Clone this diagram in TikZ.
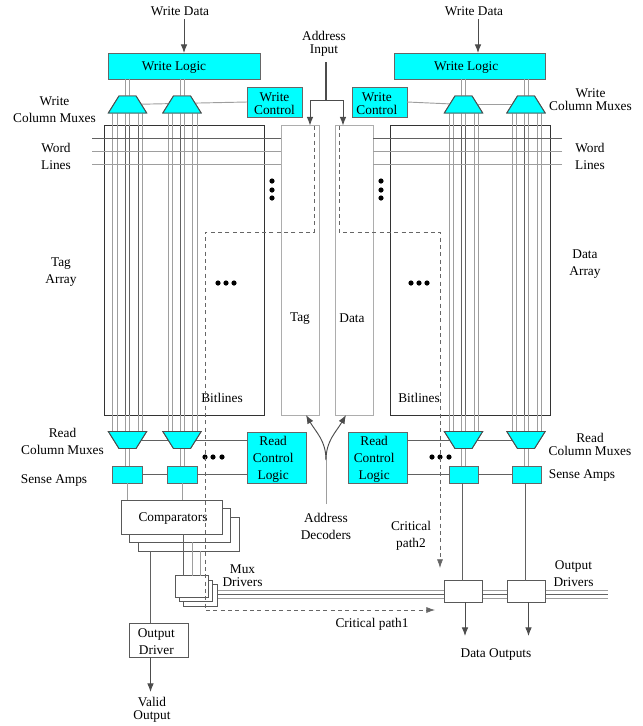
\documentclass[tikz,border=0pt]{standalone}
\usepackage{fontspec}
\setmainfont{Liberation Serif}
\usetikzlibrary{calc,arrows.meta,shapes.geometric}
\definecolor{cellcyan}{RGB}{0,255,255}

\begin{document}
\begin{tikzpicture}[
    x=0.75pt, y=-0.75pt,
    lbl/.style={align=center, inner sep=0pt, yshift=-1pt, font=\fontsize{10}{12.75}\selectfont},
    tight lbl/.style={lbl, font=\fontsize{10}{9.75}\selectfont},
    size px/.style 2 args={minimum width=#1*0.75pt, minimum height=#2*0.75pt, outer sep=0pt, inner sep=0pt},
    cyan box/.style={draw=black!60, fill=cellcyan, line width=0.75pt},
    white box/.style={draw=black!65, fill=white, line width=0.75pt},
    mux up/.style={trapezium, trapezium left angle=58, trapezium right angle=58, minimum width=28.5pt, minimum height=12.75pt, inner sep=1pt, outer sep=0pt, draw=black!70, fill=cellcyan, line width=0.7pt},
    mux down/.style={mux up, shape border rotate=180},
    array box/.style={size px={#1}{289.5}, draw=black!80, line width=0.7pt},
    dec box/.style={size px={38}{289.5}, draw=black!32, line width=0.7pt},
    gray line/.style={draw=black!38, line width=0.7pt},
    dark line/.style={draw=black!62, line width=0.6pt},
    sig arrow/.style={draw=black!70, line width=0.7pt, -{Latex[length=6.5pt,width=5pt]}},
    crit path/.style={draw=black!60, line width=0.5pt, dash pattern=on 3pt off 2.5pt, -{Latex[length=6.5pt,width=4.5pt]}},
    dot/.style={circle, fill=black, inner sep=0pt, minimum size=3.9pt}
]
\path[use as bounding box] (0,0) rectangle (643,726);

% arrays and decoders
\node[array box=159.5] (TagArr) at (184.25,270.25) {};
\node[array box=160] (DataArr) at (470,270.25) {};
\node[dec box] (TagDec) at (300,270.25) {};
\node[dec box] (DataDec) at (354,270.25) {};

% logic blocks on top
\node[cyan box, size px={152}{26}] (WL1) at (184,66) {};
\node[cyan box, size px={151}{26}] (WL2) at (469.5,66) {};
\node[cyan box, size px={55}{30}] (WC1) at (274.5,102) {};
\node[cyan box, size px={55}{30}] (WC2) at (379.5,102) {};

% column muxes
\foreach \name/\cx in {1/127.5, 2/182, 3/463.5, 4/526} {
  \node[mux up] (WM\name) at (\cx,104.5) {};
  \node[mux down] (RM\name) at (\cx,440) {};
}

% sense amps and read control
\node[cyan box, size px={30}{17}] (SA1) at (127.5,474.5) {};
\node[cyan box, size px={30}{17}] (SA2) at (182.25,474.5) {};
\node[cyan box, size px={29}{17}] (SA3) at (463.5,474.5) {};
\node[cyan box, size px={29}{17}] (SA4) at (526.5,474.5) {};
\node[cyan box, size px={59}{51}] (RC1) at (276.5,457.5) {};
\node[cyan box, size px={59}{51}] (RC2) at (377.5,457.5) {};

% bitlines
\foreach \bx in {112.7,117,125,129,138,142.3} \draw[gray line] (\bx,0 |- WM1.south) -- (\bx,0 |- RM1.north);
\foreach \bx in {168,172,180,184,192.7,197} \draw[gray line] (\bx,0 |- WM2.south) -- (\bx,0 |- RM2.north);
\foreach \bx in {449,453,461,465,474,478} \draw[gray line] (\bx,0 |- WM3.south) -- (\bx,0 |- RM3.north);
\foreach \bx in {512,516,524,528,537,541} \draw[gray line] (\bx,0 |- WM4.south) -- (\bx,0 |- RM4.north);
\foreach \bx in {125,129,138} \draw[dark line] (\bx,0 |- TagArr.north) -- (\bx,0 |- TagArr.south);
\foreach \bx in {180,461,465,524} \draw[dark line] (\bx,0 |- TagArr.north) -- (\bx,0 |- TagArr.south);

% word lines
\coordinate (WLa) at (92,138);
\coordinate (WLb) at (92,151);
\coordinate (WLc) at (92,164);
\coordinate (WRa) at (562,138);
\coordinate (WRb) at (562,151);
\coordinate (WRc) at (562,164);
\draw[dark line] (WLa) -- (WLa -| TagDec.west);
\draw[gray line] (WLb) -- (WLb -| TagDec.west);
\draw[gray line] (WLc) -- (WLc -| TagDec.west);
\draw[dark line] (WRa) -- (WRa -| DataDec.east);
\draw[gray line] (WRb) -- (WRb -| DataDec.east);
\draw[gray line] (WRc) -- (WRc -| DataDec.east);

% logic to muxes and amps
\foreach \name/\ax/\bx in {1/125/129, 2/180/184, 3/461/465, 4/524/528} {
  \draw[gray line] (\ax,0 |- WL1.south) -- (\ax,0 |- WM\name.north);
  \draw[gray line] (\bx,0 |- WL1.south) -- (\bx,0 |- WM\name.north);
  \draw[gray line] (\ax,0 |- RM\name.south) -- (\ax,0 |- SA\name.north);
  \draw[gray line] (\bx,0 |- RM\name.south) -- (\bx,0 |- SA\name.north);
}
\draw[gray line] (WM1.center) -- (WC1.west);
\draw[gray line] (WM3.center) -- (WC2.east);
\draw[gray line] (WM3.center) -- (WM4.center);
\draw[dark line] (RM1.center) -- (RC1.west |- RM1.center);
\draw[dark line] (RM3.center) -- (RC2.east |- RM3.center);
\draw[dark line] (RM3.center) -- (RM4.center);
\draw[dark line] (SA1.east) -- (SA2.west);
\draw[dark line] (SA2.east) -- (SA2.east -| RC1.west);
\draw[dark line] (SA3.west) -- (SA3.west -| RC2.east);
\draw[dark line] (SA3.east) -- (SA4.west);
% the muxes sit on top of their own joining lines
\foreach \name/\cx in {1/127.5, 2/182, 3/463.5, 4/526} {
  \node[mux up] at (\cx,104.5) {};
  \node[mux down] at (\cx,440) {};
}

% comparators
\node[white box, size px={101}{34}] (CMP3) at (188.5,534) {};
\node[white box, size px={101}{34}] (CMP2) at (180,525) {};
\node[white box, size px={101}{34}] (CMP1) at (171.5,517) {};
\draw[gray line] (127,0 |- SA1.south) -- (127,0 |- CMP1.north);
\draw[gray line] (182,0 |- SA2.south) -- (182,0 |- CMP1.north);

% mux drivers
\coordinate (BusA) at (608,590);
\coordinate (BusB) at (608,594);
\coordinate (BusC) at (608,598);
\draw[gray line] (212,590) -- (BusA);
\draw[dark line] (212,594) -- (BusB);
\draw[gray line] (212,598) -- (BusC);
\node[white box, size px={33.5}{22}] (MD3) at (200.25,595) {};
\node[white box, size px={33}{21}] (MD2) at (196,590.5) {};
\node[white box, size px={33.5}{21.5}] (MD1) at (191.75,586.5) {};
\draw[dark line] (183.5,0 |- CMP1.south) -- (183.5,0 |- MD1.north);
\draw[gray line] (192,0 |- CMP2.south) -- (192,0 |- MD1.north);
\draw[gray line] (200,0 |- CMP3.south) -- (200,0 |- MD1.north);

% output side
\node[white box, size px={59}{34}] (OD) at (159,640) {};
\draw[dark line] (150.5,0 |- CMP3.south) -- (150.5,0 |- OD.north);
\node[white box, size px={38.5}{21.5}] (DO1) at (463.25,591.5) {};
\node[white box, size px={38}{21.5}] (DO2) at (526.5,591.5) {};
\draw[dark line] (462.7,0 |- SA3.south) -- (462.7,0 |- DO1.north);
\draw[dark line] (525,0 |- SA4.south) -- (525,0 |- DO2.north);
\coordinate (ValidEnd) at (150.5,692);
\coordinate (DataEndA) at (465,636);
\coordinate (DataEndB) at (528.5,636);
\draw[sig arrow] (150.5,0 |- OD.south) -- (ValidEnd);
\draw[sig arrow] (465,0 |- DO1.south) -- (DataEndA);
\draw[sig arrow] (528.5,0 |- DO2.south) -- (DataEndB);

% labels
\node[lbl] (LWD1) at (180,10) {Write Data};
\node[lbl] (LWD2) at (474,10) {Write Data};
\node[tight lbl] (LAddrIn) at (324,42.5) {Address\\Input};
\node[lbl] at (WL1.center) [xshift=-7.5pt] {Write Logic};
\node[lbl] at (WL2.center) [xshift=-2.5pt] {Write Logic};
\node[lbl, font=\fontsize{10}{9.5}\selectfont] at (WC1.center) {Write\\Control};
\node[lbl, font=\fontsize{10}{9.5}\selectfont] at (WC2.center) [xshift=-2pt] {Write\\Control};
\node[lbl] (LWM1) at (54.5,108.5) {Write\\Column Muxes};
\node[tight lbl] (LWM2) at (590.5,98) {Write\\Column Muxes};
\node[lbl] (LWord1) at (56,155.5) {Word\\Lines};
\node[lbl] (LWord2) at (590,155.5) {Word\\Lines};
\node[lbl] (LTag) at (61,270.5) {Tag\\Array};
\node[lbl] (LData) at (585,262.5) {Data\\Array};
\node[lbl] (LTagDec) at (300,317) {Tag};
\node[lbl] (LDataDec) at (352,317) {Data};
\node[lbl] (LBit1) at (222,397) {Bitlines};
\node[lbl] (LBit2) at (419,397) {Bitlines};
\node[lbl] (LRM1) at (62.5,440.5) {Read\\Column Muxes};
\node[tight lbl] (LRM2) at (590,443) {Read\\Column Muxes};
\node[lbl] (LSA1) at (54,479) {Sense Amps};
\node[lbl] (LSA2) at (582,474) {Sense Amps};
\node[lbl] at (RC1.center) [xshift=-2.5pt] {Read\\Control\\Logic};
\node[lbl] at (RC2.center) [xshift=-2.5pt] {Read\\Control\\Logic};
\node[lbl] at (173,517) {Comparators};
\node[tight lbl] (LMD) at (242.5,574.5) {Mux\\Drivers};
\node[lbl] at (OD.center) [xshift=-2pt] {Output\\Driver};
\node[tight lbl] (LValid) at (152,708.5) {Valid\\Output};
\node[lbl] (LDec) at (326,525.5) {Address\\Decoders};
\node[lbl] (LCP2) at (411,534.5) {Critical\\path2};
\node[lbl] (LOD) at (573.5,572.5) {Output\\Drivers};
\node[lbl] (LCP1) at (372,623) {Critical path1};
\node[lbl] (LDO) at (496,653) {Data Outputs};

% input arrows
\coordinate (DataInA) at (184,19);
\coordinate (DataInB) at (478,19);
\draw[sig arrow] (DataInA) -- (DataInA |- WL1.north);
\draw[sig arrow] (DataInB) -- (DataInB |- WL2.north);

% address lines
\coordinate (AddrTop) at (326,62);
\coordinate (AddrFork) at (326,100);
\coordinate (DecTop) at (326,504);
\coordinate (DecFork) at (326,460);
\draw[black!70, line width=1.3pt] (AddrTop) -- (AddrFork);
\draw[sig arrow] (AddrFork) -| (310,0 |- TagDec.north);
\draw[sig arrow] (AddrFork) -| (343,0 |- DataDec.north);
\draw[gray line] (DecTop) -- (DecFork);
\draw[sig arrow] (DecFork) to[out=90, in=-60] (306,0 |- TagDec.south);
\draw[sig arrow] (DecFork) to[out=90, in=-120] (346,0 |- DataDec.south);

% dots
\foreach \py in {181,190,198} {
  \node[dot] at (272,\py) {};
  \node[dot] at (381,\py) {};
}
\foreach \px in {218,226,234,411,419,427} \node[dot] at (\px,283) {};
\foreach \px in {205,213,222,432,440,449} \node[dot] at (\px,457) {};

% critical paths
\coordinate (CP1a) at (314,126);
\coordinate (CP1b) at (205,232);
\coordinate (CP1c) at (435,610);
\coordinate (CP2a) at (339,126);
\coordinate (CP2b) at (440,232);
\coordinate (CP2c) at (440,568);
\draw[crit path] (CP1a) |- (CP1b) |- (CP1c);
\draw[crit path] (CP2a) |- (CP2b) -- (CP2c);
\end{tikzpicture}
\end{document}
